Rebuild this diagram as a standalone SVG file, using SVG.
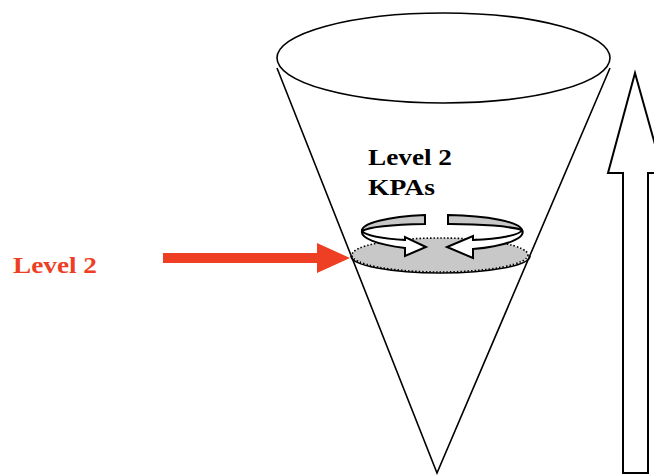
<svg xmlns="http://www.w3.org/2000/svg" width="654" height="475" viewBox="0 0 654 475">
<style>
.ln{fill:none;stroke:#000;stroke-width:1.6}
.t{font-family:"Liberation Serif","Times New Roman",serif;font-weight:bold;font-size:24px}
.band{stroke:#000;stroke-width:2;stroke-linejoin:miter}
</style>
<rect width="654" height="475" fill="#fff"/>
<g id="cone">
<ellipse cx="443.5" cy="58" rx="166.5" ry="45" class="ln"/>
<path d="M277,68 L437,473 L610,68" class="ln"/>
</g>
<g id="disk">
<ellipse cx="440" cy="255" rx="88" ry="17" fill="#c8c8c8" stroke="#000" stroke-width="1.6" stroke-dasharray="1.5,2"/>
<path d="M351,256 A89.5,17 0 0,0 530,256" class="ln" stroke-width="2"/>
</g>
<g id="rotation">
<path class="band" fill="#c8c8c8" d="M425,215 A80,16 0 0,0 362,231 A76,9 0 0,1 425,224 Z"/>
<path class="band" fill="#fff" d="M362,231 A80,18 0 0,0 405,248 L405,256 L426,247 L405,237 L405,240 A62,11 0 0,1 362,231 Z"/>
<path class="band" fill="#c8c8c8" d="M448,215 A80,16 0 0,1 522,230 A76,9 0 0,0 448,224 Z"/>
<path class="band" fill="#fff" d="M522,230 A80,18 0 0,1 473,249 L473,258 L447,247 L473,236 L473,240 A62,11 0 0,0 522,230 Z"/>
</g>
<g id="label-kpas">
<text class="t" x="368" y="165" textLength="84" lengthAdjust="spacingAndGlyphs">Level 2</text>
<text class="t" x="368" y="195" textLength="67" lengthAdjust="spacingAndGlyphs">KPAs</text>
</g>
<g id="label-level2">
<text class="t" x="13" y="273" fill="#ee3f24" textLength="84" lengthAdjust="spacingAndGlyphs">Level 2</text>
</g>
<g id="connectors">
<path d="M163,253 L317,253 L317,243 L350,258 L317,273 L317,263 L163,263 Z" fill="#ee3f24"/>
</g>
<g id="up-arrow">
<path d="M623,473 L623,173 L608,173 L635,73 L663,173 L648,173 L648,473 Z" fill="#fff" stroke="#000" stroke-width="2"/>
</g>
</svg>
